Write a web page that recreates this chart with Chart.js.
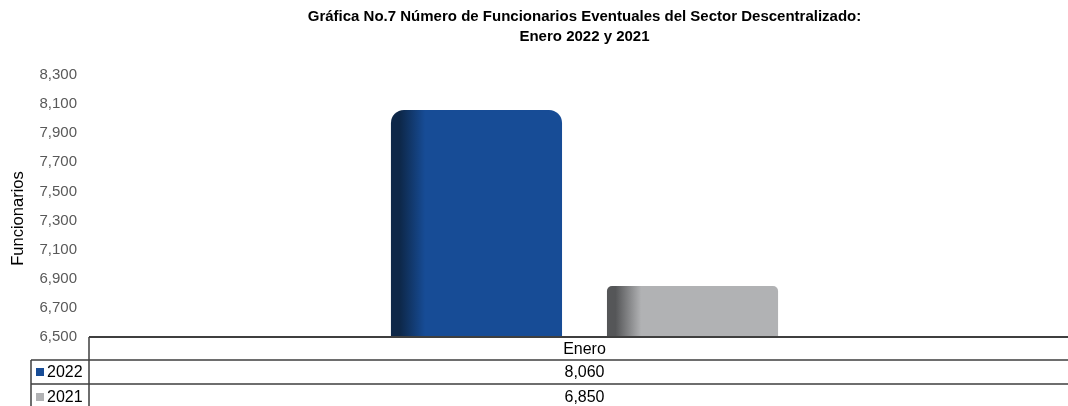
<!DOCTYPE html>
<html>
<head>
<meta charset="utf-8">
<script src="https://cdn.jsdelivr.net/npm/chart.js@4/dist/chart.umd.min.js"></script>
<style>
  html, body { margin: 0; padding: 0; background: #ffffff; overflow: hidden; }
  #wrap { position: relative; width: 1082px; height: 406px; }
</style>
</head>
<body>
<div id="wrap"><canvas id="c"></canvas></div>
<script>
// ---- data ----
const categories = ["Enero"];
const seriesNames = ["2022", "2021"];
const values2022 = [8060];
const values2021 = [6850];
const yTicksMin = 6500;
const yTicksMax = 8300;
const yTicksStep = 200;
const titleLines = ["Gráfica No.7 Número de Funcionarios Eventuales del Sector Descentralizado:", "Enero 2022 y 2021"];
const yAxisTitle = "Funcionarios";

const baseColors = ["#174c96", "#b1b2b4"];
const edgeColors = ["#0d2748", "#555658"];
const fmt = v => v.toLocaleString('en-US');

const shadePlugin = {
  id: 'shade',
  afterDatasetsUpdate(chart) {
    const ctx = chart.ctx;
    chart.data.datasets.forEach((ds, di) => {
      const meta = chart.getDatasetMeta(di);
      meta.data.forEach(el => {
        const x0 = el.x - el.width / 2;
        const g = ctx.createLinearGradient(x0, 0, x0 + el.width, 0);
        g.addColorStop(0, edgeColors[di]);
        g.addColorStop(0.05, edgeColors[di]);
        g.addColorStop(0.2, baseColors[di]);
        g.addColorStop(1, baseColors[di]);
        el.options = Object.assign({}, el.options, { backgroundColor: g });
      });
    });
  }
};

const tablePlugin = {
  id: 'table',
  afterDraw(chart) {
    const ctx = chart.ctx;
    const a = chart.chartArea;
    const W = chart.width, H = chart.height;
    const xs = chart.scales.x;
    const r1 = a.bottom, r2 = a.bottom + 23, r3 = a.bottom + 47;
    const leftX = 31;
    ctx.save();
    // y-axis title
    ctx.save();
    ctx.translate(18.5, (a.top + a.bottom) / 2 + 12.5);
    ctx.rotate(-Math.PI / 2);
    ctx.fillStyle = '#000';
    ctx.font = '16.5px "Liberation Sans", Arial, sans-serif';
    ctx.textAlign = 'center';
    ctx.textBaseline = 'middle';
    ctx.fillText(yAxisTitle, 0, 0);
    ctx.restore();

    ctx.strokeStyle = '#3f3f3f';
    ctx.lineWidth = 2;
    ctx.beginPath(); ctx.moveTo(a.left, r1); ctx.lineTo(W, r1); ctx.stroke();
    ctx.lineWidth = 1.5;
    ctx.beginPath();
    ctx.moveTo(leftX, r2); ctx.lineTo(W, r2);
    ctx.moveTo(leftX, r3); ctx.lineTo(W, r3);
    ctx.moveTo(a.left, r1); ctx.lineTo(a.left, H);
    ctx.moveTo(leftX, r2); ctx.lineTo(leftX, H);
    ctx.stroke();
    ctx.fillStyle = '#000';
    ctx.font = '16px "Liberation Sans", Arial, sans-serif';
    ctx.textBaseline = 'middle';
    ctx.textAlign = 'center';
    const rows = [values2022, values2021];
    const rowMid = [(r2 + r3) / 2, (r3 + H + 4) / 2];
    categories.forEach((c, i) => {
      const cx = xs.getPixelForValue(i);
      ctx.fillText(c, cx, (r1 + r2) / 2 + 1);
      rows.forEach((arr, j) => ctx.fillText(fmt(arr[i]), cx, rowMid[j] + 1));
    });
    ctx.textAlign = 'left';
    seriesNames.forEach((n, j) => {
      ctx.fillStyle = baseColors[j];
      ctx.fillRect(36, rowMid[j] - 4, 8, 8);
      ctx.fillStyle = '#000';
      ctx.fillText(n, 47, rowMid[j] + 1);
    });
    ctx.restore();
  }
};

new Chart(document.getElementById('c'), {
  type: 'bar',
  data: {
    labels: categories,
    datasets: [
      { label: seriesNames[0], data: values2022, backgroundColor: baseColors[0],
        borderRadius: 13, borderSkipped: false,
        categoryPercentage: 0.436, barPercentage: 0.792 },
      { label: seriesNames[1], data: values2021, backgroundColor: baseColors[1],
        borderRadius: { topLeft: 5, topRight: 5, bottomLeft: 0, bottomRight: 0 }, borderSkipped: false,
        categoryPercentage: 0.436, barPercentage: 0.792 }
    ]
  },
  options: {
    responsive: true,
    maintainAspectRatio: false,
    animation: false,
    layout: { padding: { left: 0, right: 2, top: 0, bottom: 69 } },
    plugins: {
      legend: { display: false },
      tooltip: { enabled: false },
      title: {
        display: true,
        fullSize: false,
        text: titleLines,
        color: '#000',
        font: { family: '"Liberation Sans", Arial, sans-serif', size: 15, weight: 'bold', lineHeight: 1.333 },
        padding: { top: 7, bottom: 28 }
      }
    },
    scales: {
      x: { display: false },
      y: {
        min: yTicksMin, max: yTicksMax,
        grid: { display: false, drawTicks: false },
        border: { display: false },
        ticks: {
          stepSize: yTicksStep,
          padding: 12,
          color: '#595959',
          font: { family: '"Liberation Sans", Arial, sans-serif', size: 15 },
          callback: v => fmt(v)
        },
        title: { display: false },
        afterFit: s => { s.width = 89; }
      }
    }
  },
  plugins: [shadePlugin, tablePlugin]
});
</script>
</body>
</html>
